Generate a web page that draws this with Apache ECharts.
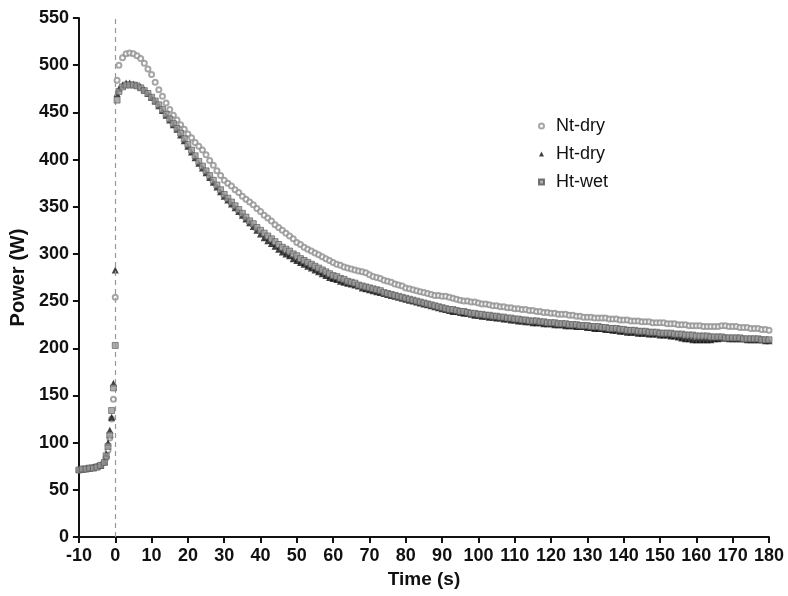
<!DOCTYPE html>
<html>
<head>
<meta charset="utf-8">
<script src="https://cdn.jsdelivr.net/npm/echarts@6/dist/echarts.min.js"></script>
<style>html,body{margin:0;padding:0;background:#fff}#c{width:788px;height:596px}</style>
</head>
<body>
<div id="c"></div>
<script>
// Time points: ramp (sub-second near the step), then one per second 1..180
var rampTimes = [-10,-9,-8,-7,-6,-5,-4,-3,-2.5,-2,-1.5,-1,-0.5,0,0.5];
var secondTimes = [];
for (var s = 1; s <= 180; s++) secondTimes.push(s);
var times = rampTimes.concat(secondTimes);

var ntDry = [
71,72,72,73,74,75,76,79,84,92,105,125,146,254,484,
500,508,512,513,512,510,507,502,496,490,
482,474,467,460,453,447,442,437,432,427,
423,418,414,410,405,399,394,388,383,378,
375,372,368,365,361,358,355,352,348,345,
341,338,335,331,328,325,322,319,316,312,
310,307,305,303,301,299,297,295,293,291,
289,288,286,285,284,283,282,281,280,278,
276,275,274,272,271,270,268,267,266,264,
263,262,261,260,259,258,257,256,256,255,
255,254,253,252,251,250,250,249,249,248,
247,247,246,245,245,244,244,243,243,242,
242,241,241,240,240,239,239,238,238,237,
237,236,236,236,235,235,234,234,233,233,
233,232,232,232,232,231,231,231,230,230,
230,229,229,229,228,228,228,227,227,227,
227,226,226,226,225,225,225,224,224,224,
224,223,223,223,223,223,224,224,223,223,
223,222,222,222,221,221,221,220,220,219
];
var htDry = [
72,72,73,73,74,75,76,80,88,100,113,127,163,283,470,
475,479,481,481,480,479,477,474,470,466,
462,457,452,447,442,437,432,426,420,414,
408,402,396,391,386,381,376,371,366,361,
357,353,349,345,341,337,333,329,325,321,
317,314,311,308,305,302,300,298,295,293,
291,289,287,285,283,281,279,277,275,274,
273,271,270,269,268,267,266,264,263,262,
261,260,259,258,257,256,255,254,253,252,
251,250,249,248,247,246,245,244,243,242,
241,240,239,239,238,237,237,236,235,235,
234,234,233,233,232,232,231,231,230,230,
229,229,228,228,227,227,227,226,226,226,
225,225,225,224,224,224,223,223,223,222,
222,221,221,221,220,220,219,219,218,218,
217,217,217,216,216,216,215,215,215,214,
214,214,213,213,212,211,210,210,209,209,
209,209,209,209,210,210,211,211,210,210,
210,210,210,209,209,209,209,209,208,208
];
var htWet = [
71,72,72,73,73,74,76,79,86,96,108,134,158,203,463,
472,477,479,479,479,478,476,473,470,466,
462,458,453,448,443,438,433,428,422,416,
410,404,398,393,388,383,378,373,368,363,
359,355,351,347,343,339,335,332,328,325,
322,319,316,313,310,307,305,303,300,298,
295,293,291,289,287,285,283,281,279,277,
276,274,273,271,270,269,267,266,265,264,
263,262,261,259,258,257,256,255,254,253,
252,251,250,249,248,247,246,245,244,243,
242,241,241,240,239,239,238,237,237,236,
236,235,235,234,234,233,233,232,232,231,
231,230,230,229,229,229,228,228,227,227,
227,226,226,226,225,225,225,224,224,224,
223,223,223,222,222,221,221,221,220,220,
219,219,219,218,218,218,217,217,217,216,
216,216,216,215,215,215,214,214,214,213,
213,213,213,212,212,212,212,211,211,211,
211,211,210,210,210,210,210,209,209,209
];
var seriesNames = ['Nt-dry','Ht-dry','Ht-wet'];

function pairs(vals){ return times.map(function(t,i){ return [t, vals[i]]; }); }

var font = 'Liberation Sans, Arial, sans-serif';
var chart = echarts.init(document.getElementById('c'), null, {renderer:'canvas'});
chart.setOption({
  animation: false,
  backgroundColor: '#fff',
  grid: {left: 78, right: 19, top: 18, bottom: 59},
  legend: {
    orient: 'vertical', left: 533, top: 112, itemGap: 10,
    itemWidth: 5, itemHeight: 5,
    textStyle: {fontFamily: font, fontSize: 18, color: '#111', padding: [0,0,0,7]},
    data: seriesNames
  },
  xAxis: {
    type: 'value', min: -10, max: 180, interval: 10,
    name: 'Time (s)', nameLocation: 'middle', nameGap: 31,
    nameTextStyle: {fontFamily: font, fontSize: 19, fontWeight: 'bold', color: '#111'},
    axisLine: {onZero: false, lineStyle: {color: '#111', width: 2}},
    axisTick: {length: 6, lineStyle: {color: '#111', width: 2}},
    axisLabel: {fontFamily: font, fontSize: 18, fontWeight: 'bold', color: '#111', margin: 10},
    splitLine: {show: false}
  },
  yAxis: {
    type: 'value', min: 0, max: 550, interval: 50,
    name: 'Power (W)', nameLocation: 'middle', nameGap: 43, nameRotate: 90,
    nameTextStyle: {fontFamily: font, fontSize: 20, fontWeight: 'bold', color: '#111'},
    axisLine: {show: true, onZero: false, lineStyle: {color: '#111', width: 2}},
    axisTick: {show: true, length: 6, lineStyle: {color: '#111', width: 2}},
    axisLabel: {fontFamily: font, fontSize: 18, fontWeight: 'bold', color: '#111', margin: 10},
    splitLine: {show: false}
  },
  series: [
    {
      name: 'Nt-dry', type: 'scatter', symbol: 'emptyCircle', symbolSize: 5,
      itemStyle: {color: '#909090', borderWidth: 0.9},
      data: pairs(ntDry), z: 3,
      markLine: {
        silent: true, symbol: 'none', label: {show: false},
        lineStyle: {type: [5,4], color: '#999', width: 1.2},
        data: [{xAxis: 0}]
      }
    },
    {
      name: 'Ht-dry', type: 'scatter', symbol: 'triangle', symbolSize: 7,
      itemStyle: {color: '#111'},
      data: pairs(htDry), z: 4
    },
    {
      name: 'Ht-wet', type: 'scatter', symbol: 'rect', symbolSize: 6,
      itemStyle: {color: '#9a9a9a', borderColor: '#555', borderWidth: 0.8},
      data: pairs(htWet), z: 5
    }
  ]
});
</script>
</body>
</html>
